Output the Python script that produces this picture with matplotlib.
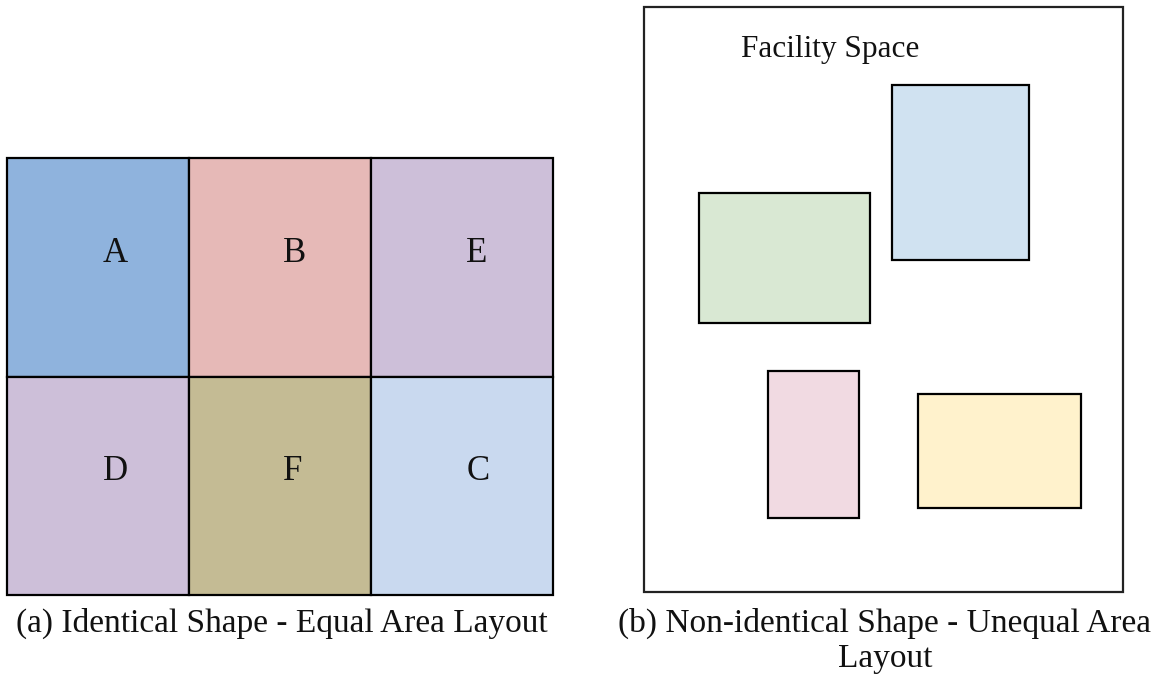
import matplotlib.pyplot as plt
from matplotlib.patches import Rectangle

# left panel: 2x3 grid of equal cells
cell_names = ['A', 'B', 'E', 'D', 'F', 'C']
cell_colors = ['#8FB3DD', '#E6B9B7', '#CDBFD9', '#CDBFD9', '#C4BB94', '#C9D9EF']
col_edges = [7, 189, 371, 553]
row_edges = [158, 377, 595]
label_pos = [(115, 250), (295, 250), (477, 250), (115, 468), (293, 468), (478, 468)]

# right panel: facility space with unequal blocks (x0, y0, x1, y1)
space_box = (644, 7, 1123, 592)
block_boxes = [(699, 193, 870, 323), (892, 85, 1029, 260),
               (768, 371, 859, 518), (918, 394, 1081, 508)]
block_colors = ['#D9E8D3', '#D0E2F1', '#F1DAE2', '#FFF2CC']

caption_a = '(a) Identical Shape - Equal Area Layout'
caption_b = ['(b) Non-identical Shape - Unequal Area', 'Layout']

fig = plt.figure(figsize=(11.59, 6.76), dpi=100)
ax = fig.add_axes([0, 0, 1, 1])
ax.set_xlim(0, 1159)
ax.set_ylim(676, 0)
ax.axis('off')

serif = ['Liberation Serif', 'DejaVu Serif']

k = 0
for r in range(2):
    for c in range(3):
        x0, x1 = col_edges[c], col_edges[c + 1]
        y0, y1 = row_edges[r], row_edges[r + 1]
        ax.add_patch(Rectangle((x0, y0), x1 - x0, y1 - y0, facecolor=cell_colors[k],
                               edgecolor='black', lw=1.6))
        # va='center' sits a bit high for caps, nudge down
        ax.text(label_pos[k][0], label_pos[k][1] + 3, cell_names[k], ha='center', va='center',
                fontsize=25, family=serif, color='#111111')
        k += 1

x0, y0, x1, y1 = space_box
ax.add_patch(Rectangle((x0, y0), x1 - x0, y1 - y0, facecolor='white', edgecolor='#222222', lw=1.6))
ax.text(830, 49, 'Facility Space', ha='center', va='center', fontsize=22.5, family=serif,
        color='#111111')

for (bx0, by0, bx1, by1), col in zip(block_boxes, block_colors):
    ax.add_patch(Rectangle((bx0, by0), bx1 - bx0, by1 - by0, facecolor=col,
                           edgecolor='black', lw=1.6))

ax.text(282, 623, caption_a, ha='center', va='center', fontsize=24, family=serif, color='#111111')
ax.text(885, 623, caption_b[0], ha='center', va='center', fontsize=24, family=serif, color='#111111')
ax.text(885, 659, caption_b[1], ha='center', va='center', fontsize=24, family=serif, color='#111111')

fig.savefig('out.png', dpi=100)
